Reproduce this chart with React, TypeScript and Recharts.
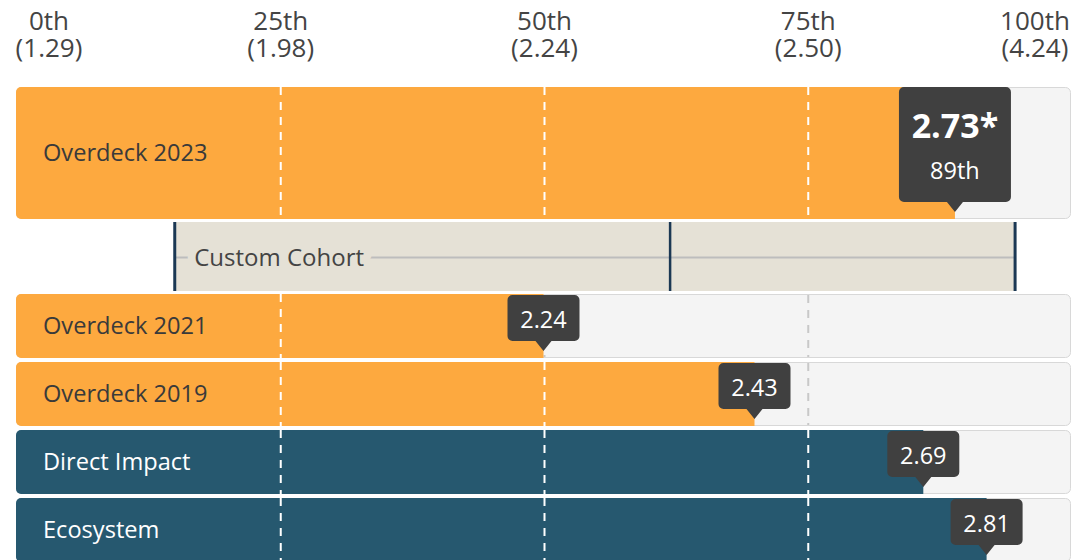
import React from 'react';
import { BarChart, Bar, XAxis, YAxis, LabelList } from 'recharts';

// ---------------- data ----------------
const percentileTicks = [0, 25, 50, 75, 100];
const percentileTickLabels = ['0th', '25th', '50th', '75th', '100th'];
const tickScores = ['(1.29)', '(1.98)', '(2.24)', '(2.50)', '(4.24)'];

const headlineNames = ['Overdeck 2023'];
const headlinePercentiles = [89];
const headlineScores = ['2.73*'];
const headlineRanks = ['89th'];

const cohortNames = ['Custom Cohort'];
const cohortLow = [15];
const cohortMedian = [62];
const cohortHigh = [94.7];

const rowNames = ['Overdeck 2021', 'Overdeck 2019', 'Direct Impact', 'Ecosystem'];
const rowPercentiles = [50, 70, 86, 92];
const rowScores = ['2.24', '2.43', '2.69', '2.81'];
const rowGroups = ['Overdeck', 'Overdeck', 'Benchmark', 'Benchmark'];

// ---------------- tables built from the data ----------------
const headlineData = headlineNames.map((name, i) => ({
  name,
  percentile: headlinePercentiles[i],
  score: headlineScores[i],
  rank: headlineRanks[i],
  group: 'Overdeck',
}));

const cohortData = cohortNames.map((name, i) => ({
  name,
  range: [cohortLow[i], cohortHigh[i]],
  low: cohortLow[i],
  high: cohortHigh[i],
  median: cohortMedian[i],
}));

const rowData = rowNames.map((name, i) => ({
  name,
  percentile: rowPercentiles[i],
  score: rowScores[i],
  group: rowGroups[i],
}));

const gridTicks = percentileTicks.filter((t) => t > 0 && t < 100);

// ---------------- styles ----------------
const FONT = '"Open Sans", sans-serif';
const W = 1083;
const MARGIN = { top: 0, right: 12, bottom: 0, left: 16 };
const groupFill: Record<string, string> = { Overdeck: '#fda93f', Benchmark: '#26586f' };
const groupText: Record<string, string> = { Overdeck: '#3a3a3a', Benchmark: '#ffffff' };
const TRACK_FILL = '#f4f4f4';
const TRACK_STROKE = '#d8d8d8';
const GRID_GREY = '#c8c8c8';
const CALLOUT_FILL = '#404040';
const COHORT_FILL = '#e5e1d6';
const COHORT_LINE = '#1b3854';
const COHORT_AXIS = '#bdbdbd';
const DASH = '8 7';

const vbOf = (p: any) => (p && p.viewBox && p.viewBox.width !== undefined ? p.viewBox : p);

const rowGroupsByName: Record<string, string> = {};
headlineData.forEach((d) => (rowGroupsByName[d.name] = d.group));
rowData.forEach((d) => (rowGroupsByName[d.name] = d.group));

// grey rounded track (bar background) with grey dashed percentile lines
const renderTrack = (props: any) => {
  const { x, y, width, height } = props;
  return (
    <g>
      <rect
        x={x + 0.5}
        y={y + 0.5}
        width={width - 1}
        height={height - 1}
        rx={5}
        ry={5}
        fill={TRACK_FILL}
        stroke={TRACK_STROKE}
        strokeWidth={1}
      />
      {gridTicks.map((t) => {
        const gx = x + (width * t) / 100 + 1;
        return (
          <line
            key={t}
            x1={gx}
            x2={gx}
            y1={y + 1}
            y2={y + height - 1}
            stroke={GRID_GREY}
            strokeWidth={2}
            strokeDasharray={DASH}
          />
        );
      })}
    </g>
  );
};

// coloured bar, rounded on the left, with white dashed percentile lines inside it
const renderValueBar = (props: any) => {
  const { x, y, width, height, payload } = props;
  const v = payload.percentile;
  const r = 5;
  const fill = groupFill[payload.group];
  const d = `M${x + r},${y} H${x + width} V${y + height} H${x + r} A${r},${r} 0 0 1 ${x},${y + height - r} V${y + r} A${r},${r} 0 0 1 ${x + r},${y} Z`;
  return (
    <g>
      <path d={d} fill={fill} />
      {gridTicks
        .filter((t) => t < v)
        .map((t) => {
          const gx = x + (width * t) / v + 1;
          return (
            <line
              key={t}
              x1={gx}
              x2={gx}
              y1={y}
              y2={y + height}
              stroke="#ffffff"
              strokeWidth={2}
              strokeDasharray={DASH}
            />
          );
        })}
    </g>
  );
};

const renderName = (props: any) => {
  const vb = vbOf(props);
  const group = rowGroupsByName[props.value] || 'Overdeck';
  return (
    <text
      x={vb.x + 27}
      y={vb.y + vb.height / 2 + 8}
      fill={groupText[group]}
      fontFamily={FONT}
      fontSize={23.6}
    >
      {props.value}
    </text>
  );
};

const calloutPath = (cx: number, top: number, w: number, h: number, tip: number) => {
  const r = 5;
  const l = cx - w / 2;
  const rt = cx + w / 2;
  const b = top + h;
  return `M${l + r},${top} H${rt - r} A${r},${r} 0 0 1 ${rt},${top + r} V${b - r} A${r},${r} 0 0 1 ${rt - r},${b} H${cx + 8} L${cx},${b + tip} L${cx - 8},${b} H${l + r} A${r},${r} 0 0 1 ${l},${b - r} V${top + r} A${r},${r} 0 0 1 ${l + r},${top} Z`;
};

const renderSmallCallout = (props: any) => {
  const vb = vbOf(props);
  const cx = vb.x + vb.width;
  const top = vb.y + 1;
  return (
    <g>
      <path d={calloutPath(cx, top, 72, 46, 10)} fill={CALLOUT_FILL} />
      <text
        x={cx}
        y={top + 33}
        textAnchor="middle"
        fill="#ffffff"
        fontFamily={FONT}
        fontSize={23.5}
      >
        {props.value}
      </text>
    </g>
  );
};

const renderBigCallout = (props: any) => {
  const vb = vbOf(props);
  const cx = vb.x + vb.width;
  const top = vb.y;
  const rank = headlineData[0].rank;
  return (
    <g>
      <path d={calloutPath(cx, top, 112, 115, 10)} fill={CALLOUT_FILL} />
      <text x={cx} y={top + 51} textAnchor="middle" fill="#ffffff" fontFamily={FONT} fontSize={34} fontWeight={700}>
        <tspan x={cx} dy={0}>{props.value}</tspan>
        <tspan x={cx} dy={41} fontSize={23.5} fontWeight={400}>{rank}</tspan>
      </text>
    </g>
  );
};

const renderCohort = (props: any) => {
  const { x, y, width, height, payload } = props;
  const mx = x + (width * (payload.median - payload.low)) / (payload.high - payload.low);
  const midY = y + height / 2 + 1;
  return (
    <g>
      <rect x={x} y={y} width={width} height={height} fill={COHORT_FILL} />
      <line x1={x} x2={x + width} y1={midY} y2={midY} stroke={COHORT_AXIS} strokeWidth={2} />
      <text
        x={x + 20}
        y={midY + 8}
        fill="#444444"
        fontFamily={FONT}
        fontSize={24}
        stroke={COHORT_FILL}
        strokeWidth={16}
        paintOrder="stroke"
        strokeLinejoin="round"
      >
        {payload.name}
      </text>
      <line x1={x + 0.5} x2={x + 0.5} y1={y} y2={y + height} stroke={COHORT_LINE} strokeWidth={3} />
      <line x1={mx} x2={mx} y1={y} y2={y + height} stroke={COHORT_LINE} strokeWidth={2.5} />
      <line x1={x + width} x2={x + width} y1={y} y2={y + height} stroke={COHORT_LINE} strokeWidth={3} />
    </g>
  );
};

const TopTick = (props: any) => {
  const { x, y, payload } = props;
  const i = percentileTicks.indexOf(payload.value);
  const shift = i === 0 ? 33 : i === percentileTicks.length - 1 ? -36 : 1;
  const cx = x + shift;
  return (
    <text x={cx} y={y - 57} textAnchor="middle" fill="#444444" fontFamily={FONT} fontSize={26}>
      <tspan x={cx} dy={0}>{percentileTickLabels[i]}</tspan>
      <tspan x={cx} dy={27}>{tickScores[i]}</tspan>
    </text>
  );
};

export default function App() {
  return (
    <div
      style={{
        position: 'absolute',
        left: 0,
        top: 0,
        width: W,
        height: 560,
        overflow: 'hidden',
        background: '#ffffff',
      }}
    >
      <div style={{ position: 'absolute', left: 0, top: 0 }}>
        <BarChart
          width={W}
          height={219}
          layout="vertical"
          data={headlineData}
          margin={MARGIN}
          barCategoryGap={0}
        >
          <XAxis
            type="number"
            orientation="top"
            domain={[0, 100]}
            ticks={percentileTicks}
            interval={0}
            axisLine={false}
            tickLine={false}
            tickSize={0}
            tickMargin={0}
            height={87}
            tick={<TopTick />}
          />
          <YAxis type="category" dataKey="name" hide />
          <Bar
            dataKey="percentile"
            isAnimationActive={false}
            background={renderTrack}
            shape={renderValueBar}
          >
            <LabelList dataKey="name" content={renderName} />
            <LabelList dataKey="score" content={renderBigCallout} />
          </Bar>
        </BarChart>
      </div>

      <div style={{ position: 'absolute', left: 0, top: 222 }}>
        <BarChart
          width={W}
          height={69}
          layout="vertical"
          data={cohortData}
          margin={MARGIN}
          barCategoryGap={0}
        >
          <XAxis type="number" domain={[0, 100]} hide />
          <YAxis type="category" dataKey="name" hide />
          <Bar dataKey="range" isAnimationActive={false} shape={renderCohort} />
        </BarChart>
      </div>

      <div style={{ position: 'absolute', left: 0, top: 292 }}>
        <BarChart
          width={W}
          height={272}
          layout="vertical"
          data={rowData}
          margin={MARGIN}
          barCategoryGap={2}
        >
          <XAxis type="number" domain={[0, 100]} hide />
          <YAxis type="category" dataKey="name" hide />
          <Bar
            dataKey="percentile"
            isAnimationActive={false}
            background={renderTrack}
            shape={renderValueBar}
          >
            <LabelList dataKey="name" content={renderName} />
            <LabelList dataKey="score" content={renderSmallCallout} />
          </Bar>
        </BarChart>
      </div>
    </div>
  );
}
